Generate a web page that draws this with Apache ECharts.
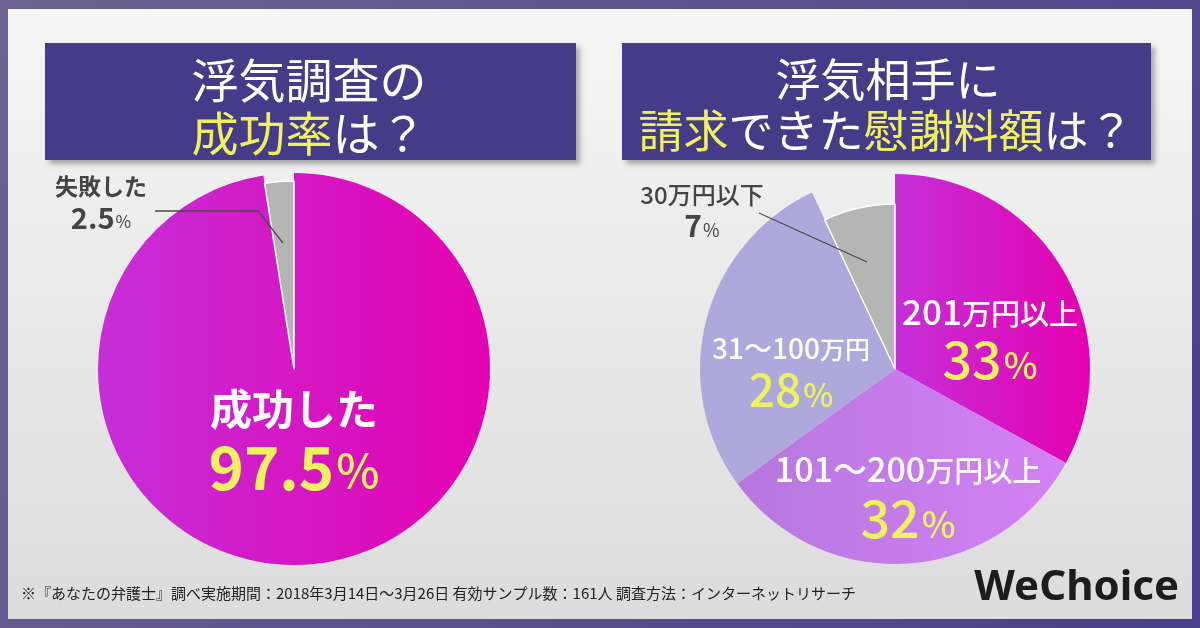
<!DOCTYPE html>
<html><head><meta charset="utf-8">
<script src="https://cdn.jsdelivr.net/npm/echarts@6/dist/echarts.min.js"></script>
<style>html,body{margin:0;padding:0;background:#5c5190}#c{width:1200px;height:628px}</style>
</head><body><div id="c"></div>
<script>
// ---- data ----
const successCategories = ['成功した', '失敗した'];
const successValues = [97.5, 2.5];
const amountCategories = ['201万円以上', '101～200万円以上', '31～100万円', '30万円以下'];
const amountValues = [33, 32, 28, 7];
const leftTitle = ['浮気調査の', '{y|成功率}{w|は？}'];
const rightTitle = ['浮気相手に', '{y|請求}{w|できた}{y|慰謝料額}{w|は？}'];
const footnote = '※『あなたの弁護士』調べ実施期間：2018年3月14日～3月26日 有効サンプル数：161人 調査方法：インターネットリサーチ';
const brand = 'WeChoice';

// ---- styles ----
const FF = '"Noto Sans CJK JP", "Noto Sans", sans-serif';
const YEL = '#eef25e';
const magentaGrad = () => new echarts.graphic.LinearGradient(0, 0, 1, 0, [
  {offset: 0, color: '#c52fd8'}, {offset: 1, color: '#e400b0'}]);
const purpleGrad = () => new echarts.graphic.LinearGradient(0, 0, 1, 0, [
  {offset: 0, color: '#b677df'}, {offset: 1, color: '#d481f4'}]);

const leftColors = [magentaGrad(), '#b5b5b5'];
const rightColors = [magentaGrad(), purpleGrad(), '#aea8dc', '#b5b5b5'];
const leftBorders = [0, 1.5];
const rightBorders = [0, 0, 0, 1.5];

// label style per slice (sizes / colours / line heights)
const leftLabelStyle = [
  {n: {fontSize: 42, fontWeight: 'bold', color: '#fff', lineHeight: 56},
   v: {fontSize: 60, fontWeight: 'bold', color: YEL, lineHeight: 60},
   p: {fontSize: 46, fontWeight: 500, color: YEL, lineHeight: 60, padding: [8, 0, 0, 2]}},
  {n: {fontSize: 23, fontWeight: 'bold', color: '#444', lineHeight: 30},
   v: {fontSize: 29, fontWeight: 'bold', color: '#444', lineHeight: 34},
   p: {fontSize: 17, fontWeight: 'normal', color: '#444', lineHeight: 34, padding: [8, 0, 0, 1]}}
];
const leftLabelPos = [[294, 439], [101, 203]];

const W = 500;
const rightLabelStyle = [
  {d: {fontSize: 35, fontWeight: W, color: '#fff', lineHeight: 42}, k: {fontSize: 29, fontWeight: W, color: '#fff', lineHeight: 42, padding: [4, 0, 0, 0]},
   v: {fontSize: 52, fontWeight: W, color: YEL, lineHeight: 52}, p: {fontSize: 36, fontWeight: W, color: YEL, lineHeight: 52, padding: [12, 0, 0, 2]}},
  {d: {fontSize: 34, fontWeight: W, color: '#fff', lineHeight: 42}, k: {fontSize: 29, fontWeight: W, color: '#fff', lineHeight: 42, padding: [4, 0, 0, 0]},
   v: {fontSize: 52, fontWeight: W, color: YEL, lineHeight: 56}, p: {fontSize: 36, fontWeight: W, color: YEL, lineHeight: 56, padding: [12, 0, 0, 2]}},
  {d: {fontSize: 28, fontWeight: W, color: '#fff', lineHeight: 38}, k: {fontSize: 25, fontWeight: W, color: '#fff', lineHeight: 38, padding: [3, 0, 0, 0]},
   v: {fontSize: 46, fontWeight: W, color: YEL, lineHeight: 46}, p: {fontSize: 32, fontWeight: W, color: YEL, lineHeight: 46, padding: [10, 0, 0, 2]}},
  {d: {fontSize: 24, fontWeight: W, color: '#444', lineHeight: 30}, k: {fontSize: 24, fontWeight: W, color: '#444', lineHeight: 30},
   v: {fontSize: 30, fontWeight: 'bold', color: '#444', lineHeight: 32}, p: {fontSize: 18, color: '#444', lineHeight: 32, padding: [8, 0, 0, 1]}}
];
const rightLabelPos = [[990, 338], [908, 497], [791, 371], [702, 211]];

function withFont(rich) {
  const out = {};
  for (const k in rich) out[k] = Object.assign({fontFamily: FF}, rich[k]);
  return out;
}
function splitName(name, numKey, txtKey) {
  const m = name.match(/^([0-9～]+)(.*)$/);
  return m ? `{${numKey}|${m[1]}}{${txtKey}|${m[2]}}` : `{${txtKey}|${name}}`;
}

function buildData(cats, vals, colors, borders, styles, visibleIdx) {
  return cats.map((c, i) => {
    const vis = visibleIdx.includes(i);
    return {
      name: c, value: vals[i],
      itemStyle: vis ? {color: colors[i], borderColor: '#ffffff', borderWidth: borders[i]}
                     : {color: 'rgba(0,0,0,0)', borderWidth: 0},
      label: vis ? {show: true, rich: withFont(styles[i])} : {show: false}
    };
  });
}

const leftFmt = p => `{n|${p.name}}\n{v|${p.value}}{p|%}`;
const rightFmt = p => splitName(p.name, 'd', 'k') + `\n{v|${p.value}}{p|%}`;

function pie(center, radius, data, fmt, positions) {
  return {
    type: 'pie', center: center, radius: radius, startAngle: 90, clockwise: true,
    avoidLabelOverlap: false, silent: true, animation: false,
    label: {show: true, position: 'inside', formatter: fmt, align: 'center', verticalAlign: 'middle'},
    labelLine: {show: false},
    emphasis: {disabled: true},
    labelLayout: params => ({x: positions[params.dataIndex][0], y: positions[params.dataIndex][1], align: 'center', verticalAlign: 'middle'}),
    data: data
  };
}

const chart = echarts.init(document.getElementById('c'), null, {renderer: 'canvas'});
chart.setOption({
  animation: false,
  graphic: [
    {type: 'rect', z: -20, shape: {x: 0, y: 0, width: 1200, height: 628},
     style: {fill: new echarts.graphic.LinearGradient(0, 0, 1, 1, [{offset: 0, color: '#6d6391'}, {offset: 1, color: '#4a3f8a'}])}},
    {type: 'rect', z: -19, shape: {x: 8, y: 9, width: 1184, height: 610},
     style: {fill: new echarts.graphic.LinearGradient(0, 0, 0, 1, [{offset: 0, color: '#f6f6f6'}, {offset: 1, color: '#dcdcdc'}])}},
    {type: 'rect', z: -18, shape: {x: 45, y: 43, width: 531, height: 117},
     style: {fill: '#463b88', shadowBlur: 5, shadowOffsetX: 4, shadowOffsetY: 4, shadowColor: 'rgba(0,0,0,0.3)'}},
    {type: 'rect', z: -18, shape: {x: 622, y: 43, width: 529, height: 117},
     style: {fill: '#463b88', shadowBlur: 5, shadowOffsetX: 4, shadowOffsetY: 4, shadowColor: 'rgba(0,0,0,0.3)'}},
    {type: 'text', z: 5, style: {x: 309, y: 80, text: leftTitle[0], fill: '#fff', fontSize: 47, fontFamily: FF, align: 'center', verticalAlign: 'middle'}},
    {type: 'text', z: 5, style: {x: 309, y: 133, text: leftTitle[1], align: 'center', verticalAlign: 'middle',
      rich: {y: {fill: YEL, fontSize: 47, fontFamily: FF}, w: {fill: '#fff', fontSize: 47, fontFamily: FF}}}},
    {type: 'text', z: 5, style: {x: 888, y: 80, text: rightTitle[0], fill: '#fff', fontSize: 45, fontFamily: FF, align: 'center', verticalAlign: 'middle'}},
    {type: 'text', z: 5, style: {x: 886, y: 131, text: rightTitle[1], align: 'center', verticalAlign: 'middle',
      rich: {y: {fill: YEL, fontSize: 45, fontFamily: FF}, w: {fill: '#fff', fontSize: 45, fontFamily: FF}}}},
    {type: 'polyline', z: 10, shape: {points: [[155, 211], [258, 211], [283, 243]]}, style: {stroke: '#4a4a4a', lineWidth: 1.3, fill: null}},
    {type: 'polyline', z: 10, shape: {points: [[759, 213], [867, 262]]}, style: {stroke: '#4a4a4a', lineWidth: 1.3, fill: null}},
    {type: 'text', z: 5, style: {x: 21, y: 593, text: footnote, fill: '#222', fontSize: 15, fontFamily: FF, align: 'left', verticalAlign: 'middle'}},
    {type: 'text', z: 5, style: {x: 1179, y: 588, text: brand, fill: '#1c1c1c', fontSize: 42, fontWeight: 'bold', fontFamily: '"Noto Sans", sans-serif', align: 'right', verticalAlign: 'middle'}}
  ],
  series: [
    pie([294, 369], 196, buildData(successCategories, successValues, leftColors, leftBorders, leftLabelStyle, [0]), leftFmt, leftLabelPos),
    pie([294, 369], 188, buildData(successCategories, successValues, leftColors, leftBorders, leftLabelStyle, [1]), leftFmt, leftLabelPos),
    pie([895, 369], 195, buildData(amountCategories, amountValues, rightColors, rightBorders, rightLabelStyle, [0, 1, 2]), rightFmt, rightLabelPos),
    pie([895, 369], 165, buildData(amountCategories, amountValues, rightColors, rightBorders, rightLabelStyle, [3]), rightFmt, rightLabelPos)
  ]
});
</script>
</body></html>
